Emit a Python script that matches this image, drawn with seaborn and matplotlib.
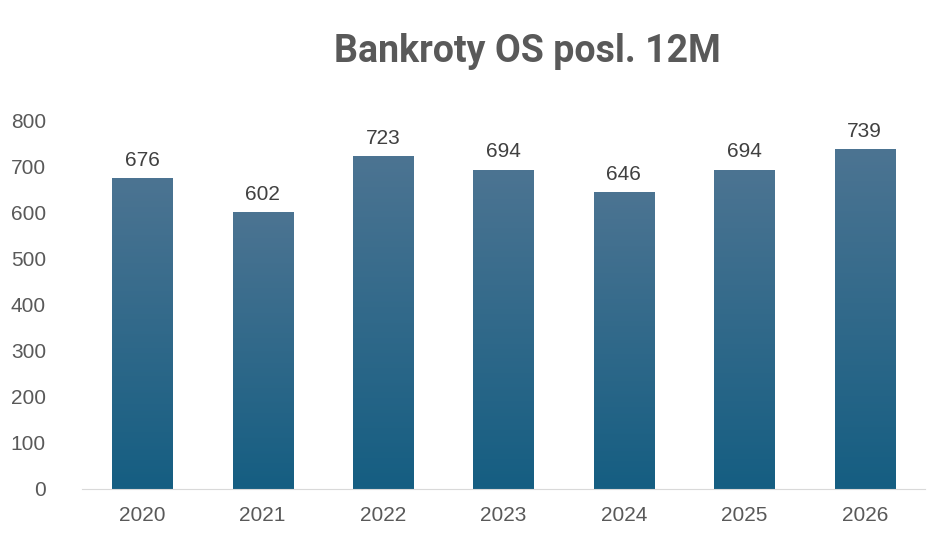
import matplotlib
matplotlib.use("Agg")
import matplotlib.pyplot as plt
import seaborn as sns
import numpy as np
import pandas as pd
from matplotlib.colors import LinearSegmentedColormap

years = ["2020", "2021", "2022", "2023", "2024", "2025", "2026"]
values = [676, 602, 723, 694, 646, 694, 739]

sns.set_style("white")
plt.rcParams['font.family'] = ['Liberation Sans', 'DejaVu Sans']

fig = plt.figure(figsize=(9.53, 5.5), dpi=100)
ax = fig.add_axes([82/953, 1-489/550, 843/953, (489-121)/550])
df = pd.DataFrame({"year": years, "value": values})
sns.barplot(data=df, x="year", y="value", ax=ax, width=0.5, color="#2f6a8c")

cmap = LinearSegmentedColormap.from_list("g", ["#155e82", "#4c7492"])
grad = np.linspace(0, 1, 256).reshape(-1, 1)
for p in ax.patches:
    x0, y0, w, h = p.get_x(), p.get_y(), p.get_width(), p.get_height()
    im = ax.imshow(grad, extent=[x0, x0 + w, y0, y0 + h], origin="lower",
                   cmap=cmap, aspect="auto", zorder=p.get_zorder() + 0.1)
    im.set_clip_path(p)
    ax.text(x0 + w / 2, h + 18, str(int(h)), ha="center", va="bottom",
            fontsize=15, color="#404040")

ax.set_xlim(-0.5, 6.5)
ax.set_ylim(0, 800)
ax.set_yticks(range(0, 801, 100))
ax.set_xlabel("")
ax.set_ylabel("")
ax.tick_params(axis="both", labelsize=15, colors="#595959", length=0)
ax.tick_params(axis="y", pad=26)
ax.tick_params(axis="x", pad=12)
for s in ["top", "right", "left"]:
    ax.spines[s].set_visible(False)
ax.spines["bottom"].set_color("#d9d9d9")
fig.text(527/953, 1-52/550, "Bankroty OS posl. 12M", ha="center", va="center",
         fontsize=27, fontweight="bold", color="#595959",
         family=["Roboto", "DejaVu Sans"])
fig.savefig("out.png", dpi=100)
